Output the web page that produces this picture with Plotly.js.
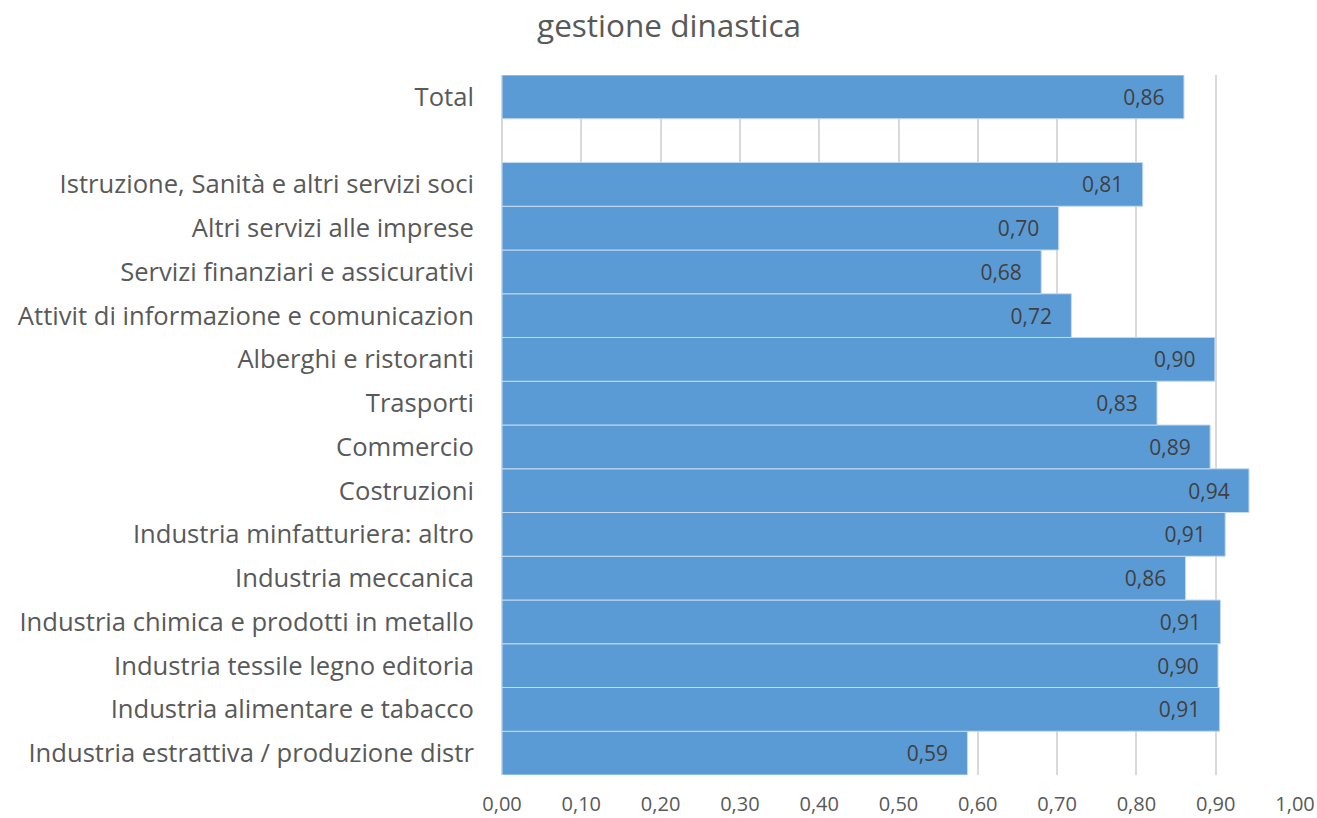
<!DOCTYPE html>
<html><head><meta charset="utf-8">
<script src="https://cdn.plot.ly/plotly-3.0.1.min.js"></script>
<style>html,body{margin:0;padding:0;background:#fff}#chart{width:1317px;height:818px}</style>
</head><body><div id="chart"></div>
<script>
const categories = [
  "Industria estrattiva / produzione distr",
  "Industria alimentare e tabacco",
  "Industria tessile legno editoria",
  "Industria chimica e prodotti in metallo",
  "Industria meccanica",
  "Industria minfatturiera: altro",
  "Costruzioni",
  "Commercio",
  "Trasporti",
  "Alberghi e ristoranti",
  "Attivit di informazione e comunicazion",
  "Servizi finanziari e assicurativi",
  "Altri servizi alle imprese",
  "Istruzione, Sanità e altri servizi soci",
  " ",
  "Total"
];
const values = [0.587, 0.905, 0.903, 0.906, 0.862, 0.912, 0.942, 0.893, 0.826, 0.899, 0.718, 0.680, 0.702, 0.808, null, 0.860];
const tickValues = [0, 0.1, 0.2, 0.3, 0.4, 0.5, 0.6, 0.7, 0.8, 0.9, 1.0];
const chartTitle = "gestione dinastica";

const PADR = "\u00a0\u00a0\u00a0";
const labels = values.map(v => v === null ? "" : v.toFixed(2).replace(".", ",") + PADR);
const FONT = "'Open Sans', sans-serif";

Plotly.newPlot("chart", [{
  type: "bar",
  orientation: "h",
  y: categories,
  x: values,
  width: 1,
  marker: {color: "#5b9bd5", line: {color: "#c5d9ef", width: 1}},
  text: labels,
  textposition: "inside",
  insidetextanchor: "end",
  textangle: 0,
  constraintext: "none",
  textfont: {family: FONT, size: 21, color: "#404040"},
  cliponaxis: false,
  hoverinfo: "none"
}], {
  width: 1317, height: 818,
  separators: ",.",
  title: {text: chartTitle, x: 0.508, xanchor: "center", y: 0.968, yanchor: "middle",
          font: {family: FONT, size: 31.5, color: "#595959"}},
  margin: {l: 502, r: 22, t: 75, b: 43, pad: 0},
  bargap: 0,
  xaxis: {
    range: [0, 1.0], tickvals: tickValues, tickformat: ".2f",
    showgrid: true, gridcolor: "#d9d9d9", gridwidth: 2,
    zeroline: true, zerolinecolor: "#d9d9d9", zerolinewidth: 2,
    showline: false, ticks: "outside", ticklen: 11, tickcolor: "rgba(0,0,0,0)",
    tickfont: {family: FONT, size: 20, color: "#595959"},
    fixedrange: true
  },
  yaxis: {
    type: "category", categoryorder: "array", categoryarray: categories,
    showgrid: false, zeroline: false, showline: false, ticks: "outside", ticklen: 22, tickcolor: "rgba(0,0,0,0)",
    tickfont: {family: FONT, size: 25.6, color: "#595959"},
    fixedrange: true
  },
  plot_bgcolor: "#fff", paper_bgcolor: "#fff",
  showlegend: false
}, {displayModeBar: false, staticPlot: true});
</script></body></html>
